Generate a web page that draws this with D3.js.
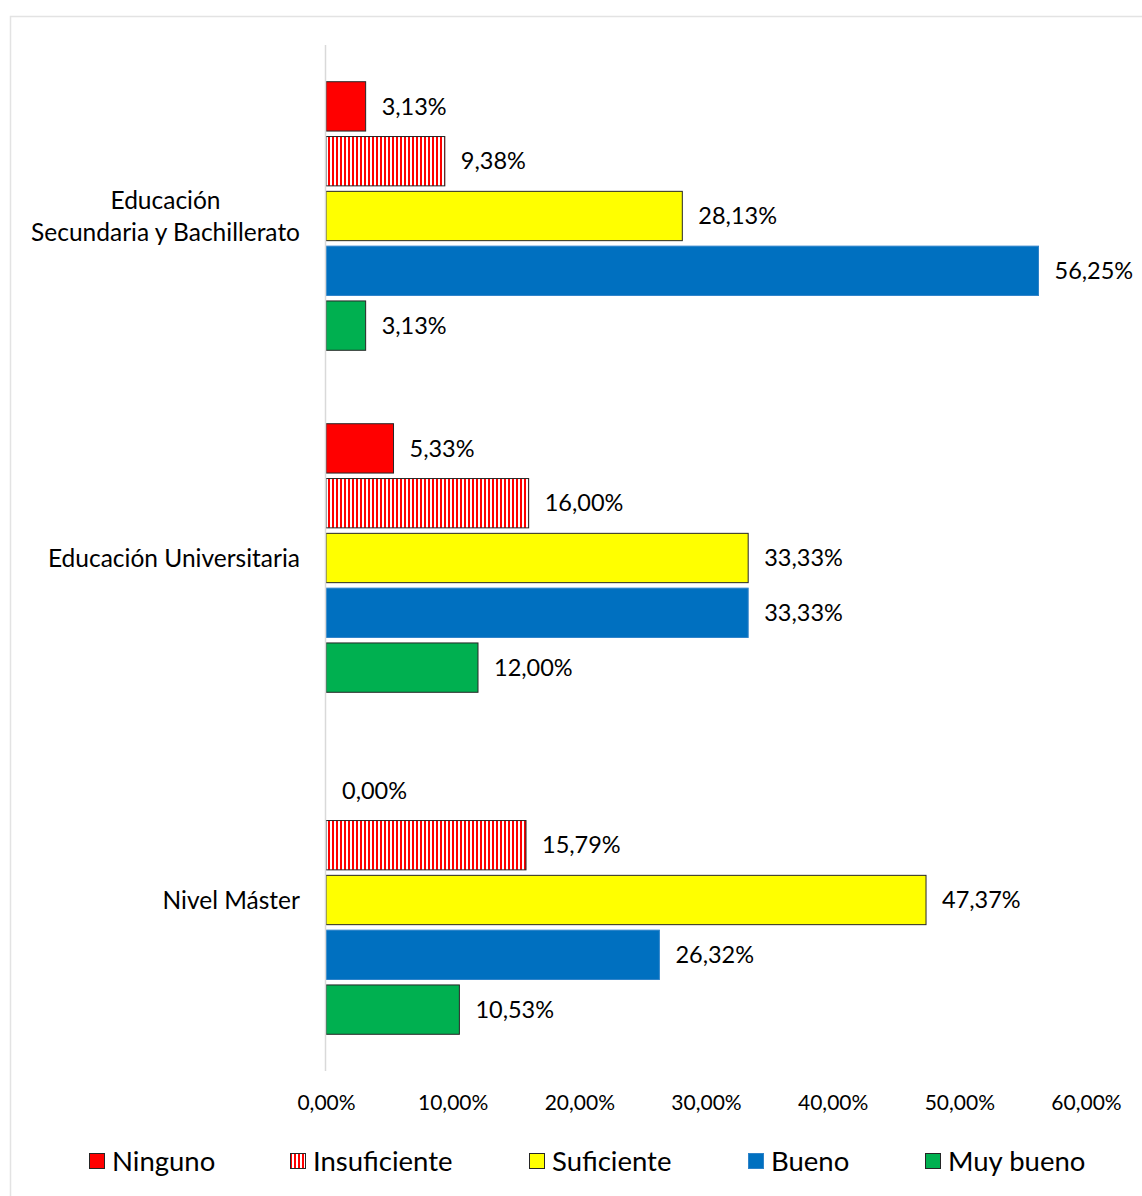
<!DOCTYPE html>
<html>
<head>
<meta charset="utf-8">
<script src="https://cdn.jsdelivr.net/npm/d3@7"></script>
<style>
  body { margin: 0; background: #fff; }
  svg text { font-family: Lato, "Open Sans", sans-serif; fill: #000; }
</style>
</head>
<body>
<div id="chart"></div>
<script>
// categories, top to bottom
var categories = ["Educación Secundaria y Bachillerato", "Educación Universitaria", "Nivel Máster"];
var categoryLines = [["Educación", "Secundaria y Bachillerato"], ["Educación Universitaria"], ["Nivel Máster"]];
var seriesNames = ["Ninguno", "Insuficiente", "Suficiente", "Bueno", "Muy bueno"];
// values in %, one array per series (same order as categories)
var ninguno = [3.13, 5.33, 0.00];
var insuficiente = [9.38, 16.00, 15.79];
var suficiente = [28.13, 33.33, 47.37];
var bueno = [56.25, 33.33, 26.32];
var muyBueno = [3.13, 12.00, 10.53];
var xTicks = [0, 10, 20, 30, 40, 50, 60];

var seriesValues = [ninguno, insuficiente, suficiente, bueno, muyBueno];
var fills = ["#ff0000", "url(#stripes)", "#ffff00", "#0070c0", "#00b050"];
var strokes = ["#262626", "#262626", "#262626", "#2f83c9", "#262626"];

var width = 1142, height = 1196;

var svg = d3.select("#chart").append("svg")
    .attr("width", width)
    .attr("height", height);

// striped pattern for "Insuficiente"
var pat = svg.append("defs").append("pattern")
    .attr("id", "stripes")
    .attr("patternUnits", "userSpaceOnUse")
    .attr("width", 4).attr("height", 4);
pat.append("rect").attr("width", 4).attr("height", 4).attr("fill", "#fff");
pat.append("rect").attr("width", 2).attr("height", 4).attr("fill", "#ff0000");

// chart border
svg.append("rect")
    .attr("x", 10.5).attr("y", 16.5)
    .attr("width", 1160).attr("height", 1200)
    .attr("fill", "none")
    .attr("stroke", "#e3e3e3")
    .attr("stroke-width", 1.5);

var x = d3.scaleLinear().domain([0, 60]).range([326, 1086]);
var y = d3.scaleBand().domain(categories).range([45, 1071]);
var inner = d3.scaleBand().domain(seriesNames)
    .range([0, y.bandwidth()])
    .paddingInner(0.1)
    .paddingOuter(0.67);

var data = [];
categories.forEach(function(c, i) {
    seriesNames.forEach(function(s, j) {
        data.push({cat: c, series: s, idx: j, value: seriesValues[j][i]});
    });
});

// bars
svg.selectAll(".bar")
    .data(data.filter(function(d) { return d.value > 0; }))
    .enter().append("rect")
    .attr("class", "bar")
    .attr("x", x(0))
    .attr("y", function(d) { return y(d.cat) + inner(d.series); })
    .attr("width", function(d) { return x(d.value) - x(0); })
    .attr("height", inner.bandwidth())
    .attr("fill", function(d) { return fills[d.idx]; })
    .attr("stroke", function(d) { return strokes[d.idx]; })
    .attr("stroke-width", 1);

// value labels
svg.selectAll(".lbl")
    .data(data)
    .enter().append("text")
    .attr("class", "lbl")
    .attr("x", function(d) { return x(d.value) + 16; })
    .attr("y", function(d) { return y(d.cat) + inner(d.series) + inner.bandwidth() / 2; })
    .attr("dy", "0.35em")
    .attr("font-size", 23.5)
    .text(function(d) { return d.value.toFixed(2).replace(".", ",") + "%"; });

// vertical axis line
svg.append("line")
    .attr("x1", x(0) - 0.5).attr("x2", x(0) - 0.5)
    .attr("y1", 45).attr("y2", 1071)
    .attr("stroke", "#d9d9d9")
    .attr("stroke-width", 1.5);

// category labels (lines centred on each other, block right-aligned at x=300)
categories.forEach(function(c, i) {
    var lines = categoryLines[i];
    var cy = y(c) + y.bandwidth() / 2;
    var t = svg.append("text")
        .attr("font-size", 24.5)
        .attr("text-anchor", "middle");
    lines.forEach(function(l, k) {
        t.append("tspan")
            .attr("x", 0)
            .attr("y", cy + (k - (lines.length - 1) / 2) * 32)
            .attr("dy", "0.35em")
            .text(l);
    });
    var w = t.node().getBBox().width;
    t.selectAll("tspan").attr("x", 300 - w / 2);
});

// x axis tick labels
var xAxis = d3.axisBottom(x)
    .tickValues(xTicks)
    .tickSize(0)
    .tickPadding(0)
    .tickFormat(function(d) { return d.toFixed(2).replace(".", ",") + "%"; });
var gx = svg.append("g")
    .attr("transform", "translate(0,1095)")
    .call(xAxis);
gx.select(".domain").remove();
gx.selectAll("text")
    .attr("font-size", 21)
    .attr("fill", "#000")
    .style("font-family", "Lato, 'Open Sans', sans-serif");

// legend
var legendX = [89, 290, 529, 748, 925];
var leg = svg.selectAll(".leg")
    .data(seriesNames)
    .enter().append("g")
    .attr("class", "leg")
    .attr("transform", function(d, i) { return "translate(" + legendX[i] + ",1161)"; });
leg.append("rect")
    .attr("x", 0.5).attr("y", -7.5)
    .attr("width", 15).attr("height", 15)
    .attr("fill", function(d, i) { return fills[i]; })
    .attr("stroke", function(d, i) { return strokes[i]; });
leg.append("text")
    .attr("x", 23)
    .attr("dy", "0.35em")
    .attr("font-size", 27.5)
    .text(function(d) { return d; });
</script>
</body>
</html>
